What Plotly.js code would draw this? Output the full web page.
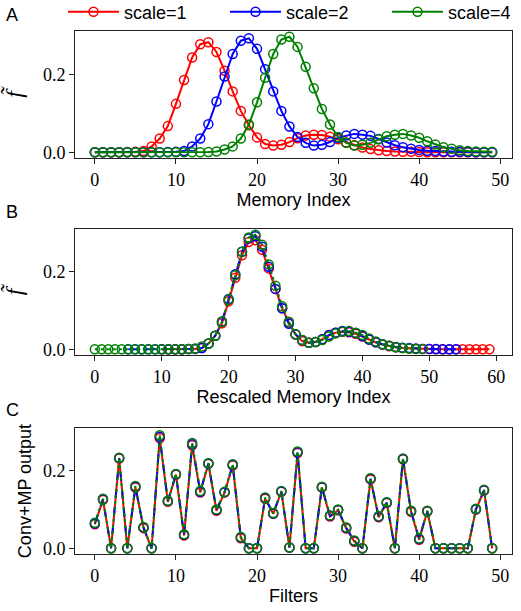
<!DOCTYPE html>
<html>
<head>
<meta charset="utf-8">
<script src="https://cdn.plot.ly/plotly-3.0.1.min.js"></script>
<style>
  html, body { margin: 0; padding: 0; background: #fff; }
  #chart { width: 521px; height: 611px; }
</style>
</head>
<body>
<div id="chart"></div>
<script>
// ---------------- data ----------------
const seriesNames = ["scale=1", "scale=2", "scale=4"];
const seriesColors = ["red", "blue", "green"];

// Panel A: activity over memory index (50 cells each)
const fScale1 = [0, 0, 0, 0, 0.0005, 0.001, 0.003, 0.015, 0.035, 0.067,
                 0.124, 0.185, 0.243, 0.277, 0.282, 0.257, 0.209, 0.156, 0.106, 0.069,
                 0.038, 0.021, 0.017, 0.019, 0.026, 0.036, 0.043, 0.045, 0.044, 0.040,
                 0.033, 0.025, 0.018, 0.012, 0.008, 0.005, 0.003, 0.002, 0.001, 0.001,
                 0.0005, 0, 0, 0, 0, 0, 0, 0, 0, 0];
const fScale2 = [0, 0, 0, 0, 0, 0, 0, 0, 0, 0.0005,
                 0.001, 0.003, 0.015, 0.035, 0.072, 0.130, 0.194, 0.252, 0.286, 0.292,
                 0.265, 0.213, 0.156, 0.106, 0.066, 0.039, 0.024, 0.017, 0.019, 0.026,
                 0.037, 0.043, 0.047, 0.045, 0.042, 0.034, 0.025, 0.018, 0.013, 0.009,
                 0.006, 0.004, 0.003, 0.002, 0.001, 0.001, 0.0005, 0, 0, 0];
const fScale4 = [0, 0, 0, 0, 0, 0, 0, 0, 0, 0,
                 0, 0, 0, 0, 0.0005, 0.002, 0.007, 0.015, 0.035, 0.071,
                 0.128, 0.191, 0.252, 0.289, 0.296, 0.270, 0.219, 0.164, 0.111, 0.071,
                 0.039, 0.024, 0.017, 0.019, 0.024, 0.033, 0.041, 0.045, 0.047, 0.043,
                 0.037, 0.028, 0.020, 0.013, 0.009, 0.005, 0.003, 0.002, 0.001, 0.001];
// Panel B: shift applied to each series' memory index when rescaled
const rescaleShift = [10, 5, 0];

// Panel C: Conv+MP output per filter
const convScale1 = [0.062, 0.125, 0, 0.232, 0, 0.157, 0.052, 0, 0.284, 0.120,
                    0.190, 0.033, 0.266, 0.144, 0.218, 0.097, 0.144, 0.214, 0.026, 0,
                    0, 0.128, 0.089, 0.146, 0.002, 0.246, 0, 0, 0.157, 0.082,
                    0.098, 0.051, 0.017, 0, 0.178, 0.080, 0.117, 0, 0.230, 0.094,
                    0.022, 0.095, 0, 0, 0, 0, 0, 0.100, 0.149, 0];
const convScale2 = [0.064, 0.127, 0, 0.233, 0, 0.159, 0.054, 0, 0.288, 0.122,
                    0.191, 0.035, 0.269, 0.146, 0.219, 0.099, 0.145, 0.216, 0.028, 0,
                    0, 0.130, 0.090, 0.147, 0.002, 0.248, 0, 0, 0.158, 0.084,
                    0.099, 0.053, 0.019, 0, 0.180, 0.082, 0.118, 0, 0.231, 0.096,
                    0.024, 0.096, 0, 0, 0, 0, 0, 0.101, 0.150, 0];
const convScale4 = [0.066, 0.128, 0, 0.234, 0, 0.161, 0.055, 0, 0.292, 0.123,
                    0.192, 0.036, 0.272, 0.148, 0.220, 0.100, 0.146, 0.217, 0.029, 0,
                    0, 0.131, 0.091, 0.148, 0.002, 0.250, 0, 0, 0.159, 0.085,
                    0.100, 0.054, 0.020, 0, 0.181, 0.083, 0.119, 0, 0.232, 0.097,
                    0.025, 0.097, 0, 0, 0, 0, 0, 0.102, 0.151, 0];

const panelLetters = ["A", "B", "C"];
const xTitles = ["Memory Index", "Rescaled Memory Index", "Filters"];
const yTitles = ["<i>f\u0303</i>", "<i>f\u0303</i>", "Conv+MP output"];

// ---------------- build ----------------
const memIdx = fScale1.map((_, i) => i);
const filtIdx = convScale1.map((_, i) => i);
const fSeries = [fScale1, fScale2, fScale4];
const convSeries = [convScale1, convScale2, convScale4];
const dashB = ["solid", "dash", "dot"];
const legendIds = ["legend", "legend2", "legend3"];

const traces = [];
const mk = (c) => ({symbol: "circle-open", size: 9, color: c, line: {width: 1.5, color: c}});

fSeries.forEach((ys, k) => {
  traces.push({
    x: memIdx, y: ys, xaxis: "x", yaxis: "y", type: "scatter", mode: "lines+markers",
    name: seriesNames[k], legend: legendIds[k], showlegend: true,
    line: {color: seriesColors[k], width: 2}, marker: mk(seriesColors[k])
  });
});
fSeries.forEach((ys, k) => {
  traces.push({
    x: memIdx.map(i => i + rescaleShift[k]), y: ys, xaxis: "x2", yaxis: "y2",
    type: "scatter", mode: "lines+markers",
    name: seriesNames[k], showlegend: false,
    line: {color: seriesColors[k], width: 2, dash: dashB[k]}, marker: mk(seriesColors[k])
  });
});
convSeries.forEach((ys, k) => {
  traces.push({
    x: filtIdx, y: ys, xaxis: "x3", yaxis: "y3", type: "scatter", mode: "lines+markers",
    name: seriesNames[k], showlegend: false,
    line: {color: seriesColors[k], width: 2, dash: dashB[k]}, marker: mk(seriesColors[k])
  });
});

const W = 521, H = 611;
const xDom = [75 / W, 512 / W];
const yDoms = [[1 - 158 / H, 1 - 31 / H], [1 - 355 / H, 1 - 229 / H], [1 - 554 / H, 1 - 428 / H]];
const xRanges = [[-2.45, 51.45], [-2.97, 62.37], [-2.45, 51.45]];
const yRange = [-0.0148, 0.3108];

const tickFont = {family: "Liberation Serif", size: 18, color: "black"};
const titleFont = {family: "Liberation Sans", size: 18, color: "black"};

const legendX = [63, 225, 387];
const layout = {
  width: W, height: H,
  margin: {l: 0, r: 0, t: 0, b: 0, autoexpand: false},
  paper_bgcolor: "white", plot_bgcolor: "white",
  showlegend: true,
  annotations: panelLetters.map((t, k) => ({
    text: t, xref: "paper", yref: "paper", x: 12 / W, y: [1 - 15 / H, 1 - 212 / H, 1 - 410 / H][k],
    xanchor: "center", yanchor: "middle", showarrow: false,
    font: {family: "Liberation Sans", size: 18, color: "black"}
  }))
};
legendIds.forEach((id, k) => {
  layout[id] = {
    orientation: "h", x: legendX[k] / W, xanchor: "left", y: 1 - 12 / H, yanchor: "middle",
    font: titleFont, bgcolor: "rgba(0,0,0,0)", itemwidth: 51
  };
});

for (let k = 0; k < 3; k++) {
  const sfx = k === 0 ? "" : String(k + 1);
  layout["xaxis" + sfx] = {
    domain: xDom, range: xRanges[k], anchor: "y" + sfx, dtick: 10, tick0: 0,
    showline: true, mirror: true, linecolor: "#222", linewidth: 1,
    ticks: "outside", ticklen: 5, tickwidth: 1, tickcolor: "#222",
    showgrid: false, zeroline: false, tickfont: tickFont,
    title: {text: xTitles[k], font: titleFont, standoff: 4}
  };
  layout["yaxis" + sfx] = {
    domain: yDoms[k], range: yRange, anchor: "x" + sfx, dtick: 0.2, tick0: 0, tickformat: ".1f",
    showline: true, mirror: true, linecolor: "#222", linewidth: 1,
    ticks: "outside", ticklen: 5, tickwidth: 1, tickcolor: "#222",
    showgrid: false, zeroline: false, tickfont: tickFont, automargin: true,
    title: {text: yTitles[k], font: k < 2 ? {family: "Liberation Serif", size: 24, color: "black"} : titleFont, standoff: k < 2 ? 16 : 6}
  };
}

Plotly.newPlot("chart", traces, layout, {displayModeBar: false, staticPlot: true});
</script>
</body>
</html>
